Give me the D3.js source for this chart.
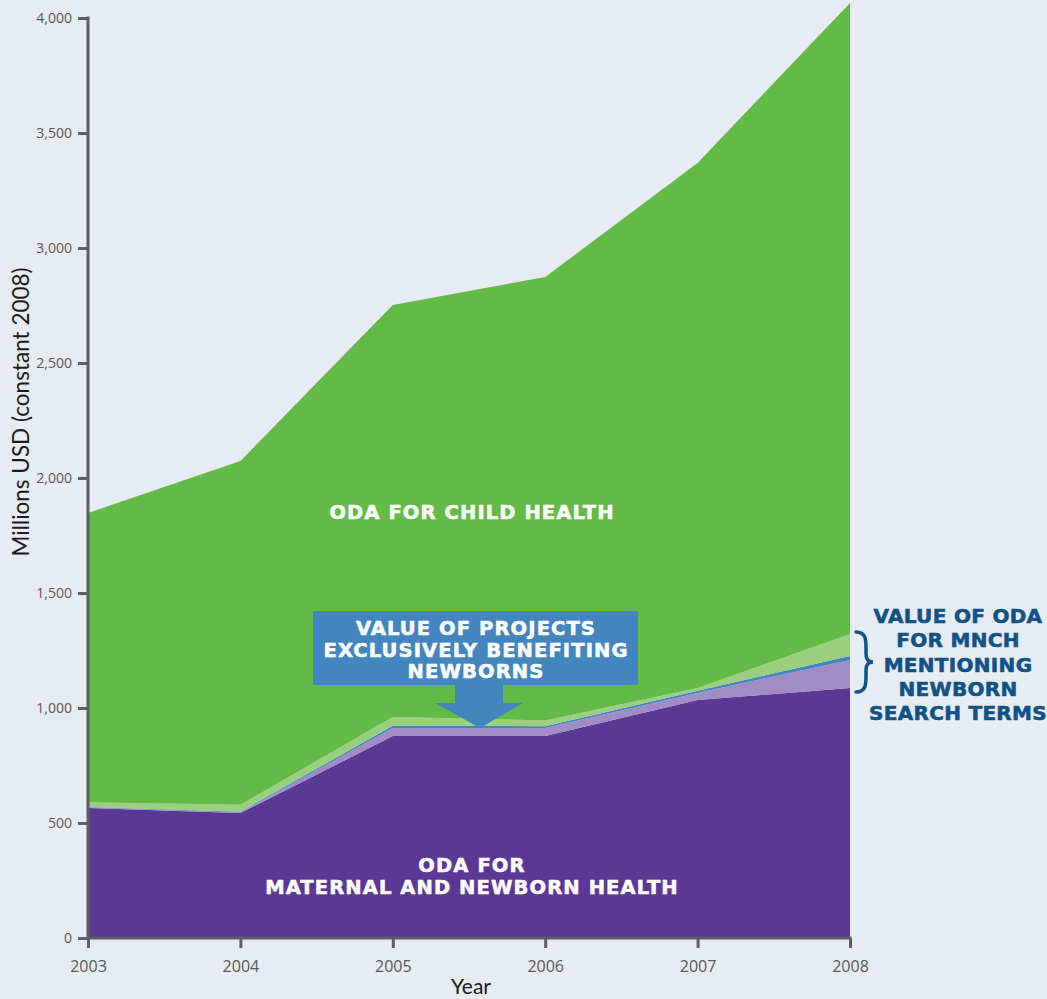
<!DOCTYPE html>
<html lang="en">
<head>
  <meta charset="UTF-8">
  <title>ODA for MNCH</title>
  <style>
    body { margin: 0; background: #e7ebf4; }
    svg { display: block; }
    .tick-label { fill: #58585a; font-family: "Open Sans", sans-serif; font-size: 14px; }
    .lbl { fill: #fff; stroke: #fff; stroke-width: 0.6px; font-family: "DejaVu Sans", sans-serif; font-weight: bold; font-size: 19.5px; letter-spacing: 1.1px; }
    .note { fill: #0f5285; stroke: #0f5285; stroke-width: 0.6px; font-family: "DejaVu Sans", sans-serif; font-weight: bold; font-size: 20px; letter-spacing: 0.3px; }
  </style>
</head>
<body>
  <svg id="chart" width="1047" height="999"></svg>
  <script src="https://d3js.org/d3.v7.min.js"></script>
  <script>
    const years = [2003, 2004, 2005, 2006, 2007, 2008];
    const mnh = [565, 543, 878, 878, 1035, 1087];
    const mentioning = [2, 3, 35, 35, 30, 122];
    const exclusive = [3, 3, 10, 8, 10, 17];
    const otherMnch = [20, 30, 38, 25, 12, 96];
    const child = [1258, 1495, 1791, 1928, 2283, 2743];
    const yTicks = [0, 500, 1000, 1500, 2000, 2500, 3000, 3500, 4000];

    const keys = ["mnh", "mentioning", "exclusive", "otherMnch", "child"];
    const colors = {
      mnh: "#5b3893",
      mentioning: "#a18cc5",
      exclusive: "#4386bf",
      otherMnch: "#9acf80",
      child: "#63ba47"
    };
    const rows = years.map((y, i) => ({
      year: y, mnh: mnh[i], mentioning: mentioning[i], exclusive: exclusive[i],
      otherMnch: otherMnch[i], child: child[i]
    }));

    const svg = d3.select("#chart");
    const x = d3.scaleLinear().domain([2003, 2008]).range([88, 850]);
    const y = d3.scaleLinear().domain([0, 4000]).range([938, 18]);

    const series = d3.stack().keys(keys)(rows);
    const area = d3.area()
      .x(d => x(d.data.year))
      .y0(d => y(d[0]))
      .y1(d => y(d[1]));

    svg.append("g")
      .selectAll("path")
      .data(series)
      .join("path")
      .attr("fill", d => colors[d.key])
      .attr("d", area);

    // axes
    const yAxis = svg.append("g")
      .attr("transform", "translate(88,0)")
      .call(d3.axisLeft(y).tickValues(yTicks).tickSize(10).tickFormat(d3.format(",")));
    const xAxis = svg.append("g")
      .attr("transform", "translate(0,938)")
      .call(d3.axisBottom(x).tickValues(years).tickSize(10).tickFormat(d3.format("d")));
    [yAxis, xAxis].forEach(g => {
      g.select(".domain").remove();
      g.selectAll("line").attr("stroke", "#5d5e60").attr("stroke-width", 3);
      g.selectAll("text").attr("class", "tick-label");
    });
    yAxis.selectAll("text").attr("x", -16);
    xAxis.selectAll("text").attr("y", 23).style("font-size", "16px");
    svg.append("line")
      .attr("x1", 88).attr("x2", 88).attr("y1", 16.5).attr("y2", 939.5)
      .attr("stroke", "#5d5e60").attr("stroke-width", 3);
    svg.append("line")
      .attr("x1", 86.5).attr("x2", 851.5).attr("y1", 938).attr("y2", 938)
      .attr("stroke", "#5d5e60").attr("stroke-width", 3);

    svg.append("text")
      .attr("transform", "translate(29,412) rotate(-90)")
      .attr("text-anchor", "middle")
      .attr("fill", "#1a1a1a")
      .style("font-family", "Lato, sans-serif")
      .style("font-size", "22.5px")
      .text("Millions USD (constant 2008)");
    svg.append("text")
      .attr("x", 471).attr("y", 994)
      .attr("text-anchor", "middle")
      .attr("fill", "#1a1a1a")
      .style("font-family", "Lato, sans-serif")
      .style("font-size", "21px")
      .text("Year");

    // area labels
    svg.append("text").attr("class", "lbl")
      .attr("x", 472).attr("y", 519).attr("text-anchor", "middle")
      .text("ODA FOR CHILD HEALTH");
    svg.append("text").attr("class", "lbl")
      .attr("x", 472).attr("y", 872).attr("text-anchor", "middle")
      .text("ODA FOR");
    svg.append("text").attr("class", "lbl")
      .attr("x", 472).attr("y", 894).attr("text-anchor", "middle")
      .text("MATERNAL AND NEWBORN HEALTH");

    // callout box with arrow
    svg.append("path")
      .attr("fill", "#4386bf")
      .attr("d", "M313,611H638V685H503V703H523L480,728L435,703H455V685H313Z");
    ["VALUE OF PROJECTS", "EXCLUSIVELY BENEFITING", "NEWBORNS"].forEach((t, i) => {
      svg.append("text").attr("class", "lbl")
        .attr("x", 476).attr("y", 635 + i * 21.5).attr("text-anchor", "middle")
        .text(t);
    });

    // brace + right note
    svg.append("path")
      .attr("fill", "none")
      .attr("stroke", "#0f5285")
      .attr("stroke-width", 3.5)
      .attr("stroke-linecap", "round")
      .attr("d", "M856,632C866,632 866,640 866,648V654C866,660 869,662 873,662C869,662 866,664 866,670V676C866,684 866,692 856,692");
    ["VALUE OF ODA", "FOR MNCH", "MENTIONING", "NEWBORN", "SEARCH TERMS"].forEach((t, i) => {
      svg.append("text").attr("class", "note")
        .attr("x", 958).attr("y", 623 + i * 24.3).attr("text-anchor", "middle")
        .text(t);
    });
  </script>
</body>
</html>
